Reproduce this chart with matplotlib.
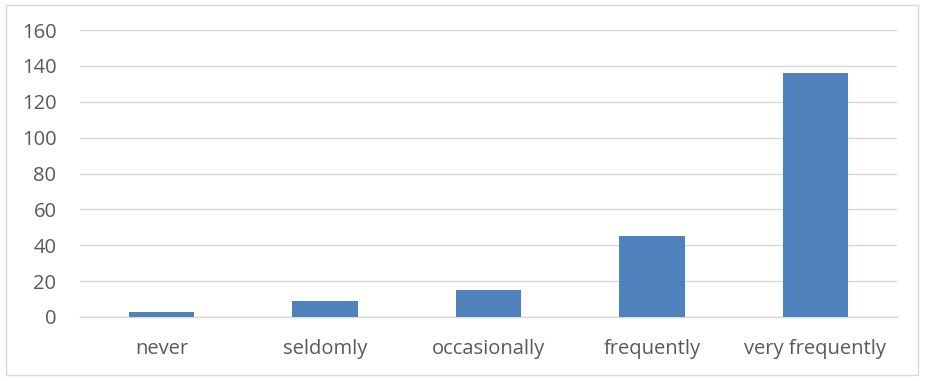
import matplotlib
matplotlib.use('Agg')
import matplotlib.pyplot as plt
from matplotlib.patches import Rectangle

categorias = ['never', 'seldomly', 'occasionally', 'frequently', 'very frequently']
valores = [3, 9, 15, 45, 136]
yticks = [0, 20, 40, 60, 80, 100, 120, 140, 160]

plt.rcParams['font.family'] = ['Open Sans', 'DejaVu Sans']

W, H = 933, 381
fig = plt.figure(figsize=(W / 100, H / 100), dpi=100)
ax = fig.add_axes([80 / W, (H - 317) / H, (897 - 80) / W, (317 - 30) / H])

x = range(len(categorias))
ax.bar(x, valores, width=0.4, color='#4f81bd', zorder=3)

ax.set_xlim(-0.5, len(categorias) - 0.5)
ax.set_ylim(0, 160)
ax.set_yticks(yticks)
ax.set_xticks(list(x))
ax.set_xticklabels(categorias)
ax.yaxis.grid(True, color='#d9d9d9', linewidth=1)
ax.set_axisbelow(True)

for lado in ['top', 'right', 'left']:
    ax.spines[lado].set_visible(False)
ax.spines['bottom'].set_color('#d9d9d9')
ax.spines['bottom'].set_linewidth(1)

ax.tick_params(axis='both', length=0, colors='#595959', labelsize=14.5)
ax.tick_params(axis='y', pad=17)
ax.tick_params(axis='x', pad=16)

# moldura a volta do grafico
fig.patches.append(Rectangle((6 / W, (H - 375) / H), (918 - 6) / W, (375 - 5) / H,
                             transform=fig.transFigure, fill=False,
                             edgecolor='#d9d9d9', linewidth=1))

fig.savefig('out.png', dpi=100)
